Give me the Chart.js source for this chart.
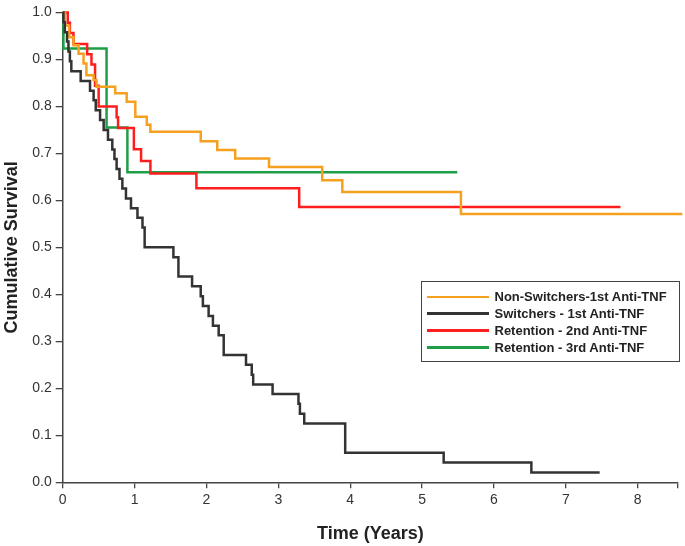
<!DOCTYPE html>
<html>
<head>
<meta charset="utf-8">
<script src="https://cdn.jsdelivr.net/npm/chart.js@4.4.1/dist/chart.umd.min.js"></script>
<style>
html,body{margin:0;padding:0;background:#fff;}
#wrap{position:relative;width:685px;height:546px;}
#legend{position:absolute;left:421px;top:281px;width:259px;height:81px;border:1.5px solid #444;box-sizing:border-box;
  font:bold 13px "Liberation Sans",Arial,sans-serif;color:#222;padding-top:6.5px;}
.item{display:flex;align-items:center;height:16.8px;white-space:nowrap;}
.sw{width:62px;height:2.5px;margin-left:4.5px;margin-right:6px;flex:none;}
</style>
</head>
<body>
<div id="wrap">
<canvas id="c" width="685" height="546"></canvas>
<div id="legend"></div>
</div>
<script>
// ---- data ----
const seriesLabels = ['Non-Switchers-1st Anti-TNF', 'Switchers - 1st Anti-TNF', 'Retention - 2nd Anti-TNF', 'Retention - 3rd Anti-TNF'];
const seriesColors = ['#F5A01E', '#333333', '#FF1E1E', '#1E9E46'];

const nonSwitchersTimes = [0, 0.03, 0.09, 0.15, 0.22, 0.29, 0.33, 0.43, 0.47, 0.73, 0.89, 1.01, 1.17, 1.22, 1.92, 2.15, 2.40, 2.87, 3.61, 3.89, 5.54, 8.62];
const nonSwitchersSurv  = [1.0, 0.972, 0.947, 0.93, 0.912, 0.891, 0.866, 0.856, 0.842, 0.828, 0.81, 0.778, 0.761, 0.746, 0.726, 0.707, 0.689, 0.671, 0.643, 0.618, 0.571, 0.571];

const switchersTimes = [0, 0.01, 0.03, 0.06, 0.08, 0.10, 0.12, 0.25, 0.38, 0.43, 0.46, 0.52, 0.57, 0.63, 0.69, 0.72, 0.75, 0.79, 0.83, 0.88, 0.95, 1.04, 1.11, 1.14, 1.54, 1.61, 1.80, 1.92, 1.95, 2.03, 2.09, 2.17, 2.24, 2.55, 2.63, 2.65, 2.92, 3.28, 3.30, 3.36, 3.93, 5.30, 6.52, 7.47];
const switchersSurv  = [1.0, 0.979, 0.958, 0.938, 0.917, 0.896, 0.875, 0.854, 0.833, 0.813, 0.792, 0.771, 0.75, 0.729, 0.708, 0.688, 0.667, 0.646, 0.625, 0.604, 0.583, 0.563, 0.542, 0.50, 0.479, 0.438, 0.417, 0.396, 0.375, 0.354, 0.333, 0.313, 0.271, 0.25, 0.229, 0.208, 0.188, 0.167, 0.146, 0.125, 0.063, 0.042, 0.021, 0.021];

const secondTimes = [0, 0.07, 0.10, 0.15, 0.34, 0.40, 0.45, 0.50, 0.75, 0.77, 0.99, 1.09, 1.22, 1.86, 3.29, 7.76];
const secondSurv  = [1.0, 0.978, 0.956, 0.933, 0.911, 0.889, 0.844, 0.80, 0.777, 0.754, 0.709, 0.684, 0.657, 0.626, 0.586, 0.586];

const thirdTimes = [0, 0.01, 0.61, 0.90, 5.49];
const thirdSurv  = [1.0, 0.923, 0.755, 0.66, 0.66];

const xTickValues = [0, 1, 2, 3, 4, 5, 6, 7, 8, 8.56];
const yTickValues = [0, 0.1, 0.2, 0.3, 0.4, 0.5, 0.6, 0.7, 0.8, 0.9, 1.0];
const xAxisTitle = 'Time (Years)';
const yAxisTitle = 'Cumulative Survival';

// ---- chart ----
Chart.defaults.font.family = '"Liberation Sans", Arial, Helvetica, sans-serif';
const toPoints = (t, s) => t.map((x, i) => ({x: x, y: s[i]}));
const seriesData = [
  toPoints(nonSwitchersTimes, nonSwitchersSurv),
  toPoints(switchersTimes, switchersSurv),
  toPoints(secondTimes, secondSurv),
  toPoints(thirdTimes, thirdSurv)
];
const drawOrder = [1, 0, 2, 3];

const chart = new Chart(document.getElementById('c'), {
  type: 'line',
  data: {
    datasets: seriesLabels.map((lab, i) => ({
      label: lab,
      data: seriesData[i],
      borderColor: seriesColors[i],
      backgroundColor: seriesColors[i],
      borderWidth: 2.5,
      stepped: 'before',
      pointRadius: 0,
      fill: false,
      clip: 8,
      order: drawOrder[i]
    }))
  },
  options: {
    responsive: false,
    animation: false,
    devicePixelRatio: 1,
    layout: {padding: {top: 8, right: 7, bottom: 0, left: 0}},
    plugins: {legend: {display: false}, tooltip: {enabled: false}},
    scales: {
      x: {
        type: 'linear', min: 0, max: xTickValues[xTickValues.length - 1],
        afterBuildTicks: s => { s.ticks = xTickValues.map(v => ({value: v})); },
        afterFit: s => { s.height = 63.7; },
        ticks: {
          autoSkip: false, maxRotation: 0, padding: 3, color: '#333',
          font: {size: 14},
          callback: v => Number.isInteger(v) ? String(v) : ''
        },
        grid: {drawOnChartArea: false, tickLength: 6, color: '#444', lineWidth: 1.3},
        border: {color: '#444', width: 1.5},
        title: {display: true, text: xAxisTitle, color: '#222', font: {size: 18, weight: 'bold'}, padding: {top: 0, bottom: 1}}
      },
      y: {
        type: 'linear', min: 0, max: 1,
        afterBuildTicks: s => { s.ticks = yTickValues.map(v => ({value: v})); },
        afterFit: s => { s.width = 62.7; },
        ticks: {
          autoSkip: false, padding: 4, color: '#333',
          font: {size: 14},
          callback: v => Number(v).toFixed(1)
        },
        grid: {drawOnChartArea: false, tickLength: 7, color: '#444', lineWidth: 1.3},
        border: {color: '#444', width: 1.5},
        title: {display: true, text: yAxisTitle, color: '#222', font: {size: 18, weight: 'bold'}, padding: {top: 1, bottom: 0}}
      }
    }
  }
});

// ---- HTML legend built from the chart's datasets ----
const legendEl = document.getElementById('legend');
chart.data.datasets.forEach(ds => {
  const row = document.createElement('div');
  row.className = 'item';
  const sw = document.createElement('span');
  sw.className = 'sw';
  sw.style.background = ds.borderColor;
  const txt = document.createElement('span');
  txt.textContent = ds.label;
  row.appendChild(sw);
  row.appendChild(txt);
  legendEl.appendChild(row);
});
</script>
</body>
</html>
